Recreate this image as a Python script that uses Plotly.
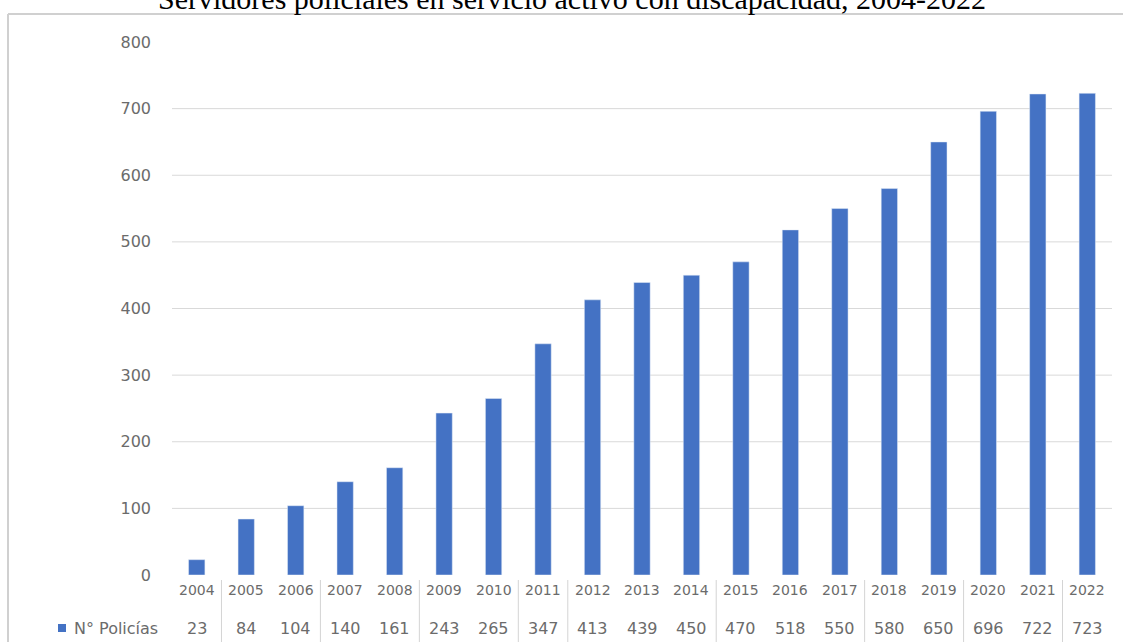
import plotly.graph_objects as go

years = ["2004", "2005", "2006", "2007", "2008", "2009", "2010", "2011", "2012", "2013",
         "2014", "2015", "2016", "2017", "2018", "2019", "2020", "2021", "2022"]
policias = [23, 84, 104, 140, 161, 243, 265, 347, 413, 439, 450, 470, 518, 550, 580, 650, 696, 722, 723]
yticks = [0, 100, 200, 300, 400, 500, 600, 700, 800]
series_name = "N° Policías"
title = "Servidores policiales en servicio activo con discapacidad, 2004-2022"
# visible table column separators (after index)
separators_after = [0, 2, 4, 6, 7, 10, 13, 15, 17]

W, H = 1123, 642
L, R, T, B = 172, 11, 42, 67
PW, PH = W - L - R, H - T - B

def px(x):
    return (x - L) / PW

def py(y):
    return (H - B - y) / PH

BLUE = "#4472C4"
GREY_TXT = "#6b6b6b"
GRID = "#d9d9d9"

fig = go.Figure()
fig.add_trace(go.Bar(x=years, y=policias, marker_color=BLUE, width=0.33, name=series_name,
                     showlegend=False))

shapes = []
for v in yticks[1:-1]:
    shapes.append(dict(type="line", xref="paper", yref="y", x0=0, x1=1, y0=v, y1=v,
                       line=dict(color=GRID, width=1), layer="below"))
for i in separators_after:
    shapes.append(dict(type="line", xref="x", yref="paper", x0=i + 0.5, x1=i + 0.5,
                       y0=py(580), y1=py(642), line=dict(color="#d4d4d4", width=1)))
# frame
shapes.append(dict(type="line", xref="paper", yref="paper", x0=px(8), x1=px(8),
                   y0=py(14), y1=py(642), line=dict(color="#d0d0d0", width=2)))
shapes.append(dict(type="line", xref="paper", yref="paper", x0=px(8), x1=px(1123),
                   y0=py(14), y1=py(14), line=dict(color="#d0d0d0", width=2)))
# legend key
shapes.append(dict(type="rect", xref="paper", yref="paper", x0=px(58), x1=px(66),
                   y0=py(632), y1=py(624), fillcolor=BLUE, line=dict(width=0)))

annotations = []
for i, (yr, v) in enumerate(zip(years, policias)):
    annotations.append(dict(x=i, y=py(590), xref="x", yref="paper", text=yr, showarrow=False,
                            font=dict(family="DejaVu Sans", size=14, color=GREY_TXT),
                            xanchor="center", yanchor="middle"))
    annotations.append(dict(x=i, y=py(628), xref="x", yref="paper", text=str(v), showarrow=False,
                            font=dict(family="DejaVu Sans", size=16, color=GREY_TXT),
                            xanchor="center", yanchor="middle"))
annotations.append(dict(x=px(72), y=py(628), xref="paper", yref="paper", text=series_name,
                        showarrow=False, font=dict(family="DejaVu Sans", size=16, color=GREY_TXT),
                        xanchor="left", yanchor="middle"))
annotations.append(dict(x=px(572), y=py(-1), xref="paper", yref="paper", text=title,
                        showarrow=False, font=dict(family="Liberation Serif", size=30, color="#000000"),
                        xanchor="center", yanchor="middle"))

fig.update_layout(
    width=W, height=H,
    margin=dict(l=L, r=R, t=T, b=B),
    paper_bgcolor="white", plot_bgcolor="white",
    showlegend=False,
    shapes=shapes, annotations=annotations,
    bargap=0.67,
    xaxis=dict(type="category", showticklabels=False, showgrid=False, zeroline=False, showline=False,
               range=[-0.5, len(years) - 0.5]),
    yaxis=dict(range=[0, 800], tickvals=yticks, showgrid=False, zeroline=False, showline=False,
               ticks="", ticklabelstandoff=20,
               tickfont=dict(family="DejaVu Sans", size=16, color=GREY_TXT)),
)

fig.write_html("out.html")
